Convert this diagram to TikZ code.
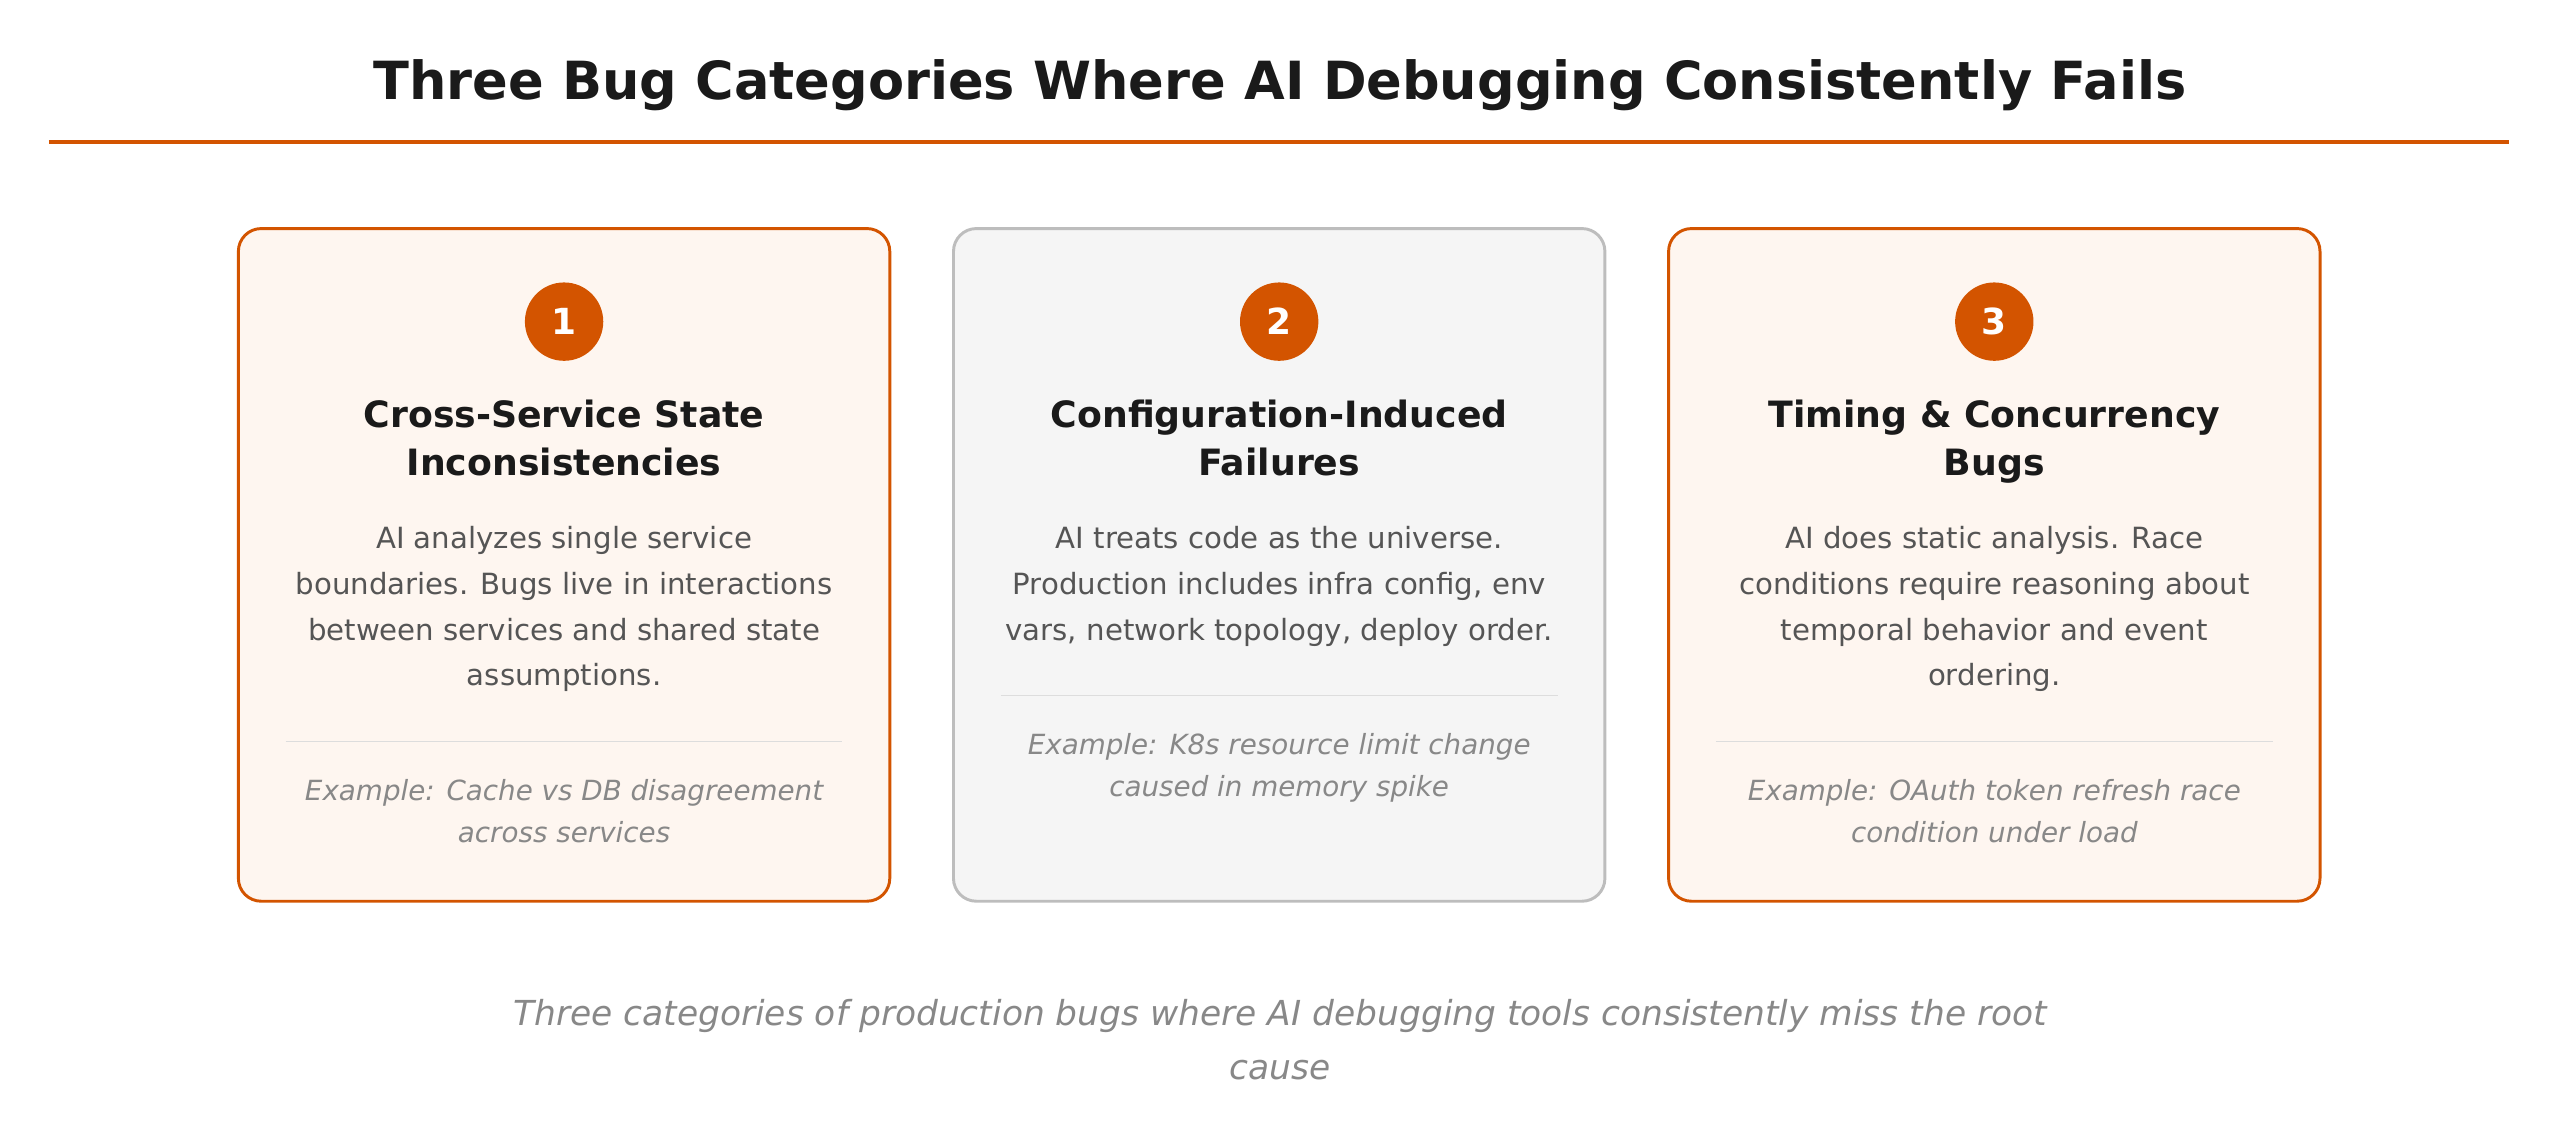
\documentclass[tikz,border=0pt]{standalone}
\usepackage{fontspec}
\setmainfont{DejaVu Sans}
\definecolor{accent}{HTML}{D35400}
\definecolor{warm}{HTML}{FEF6F0}
\definecolor{grayfill}{HTML}{F5F5F5}
\definecolor{grayline}{HTML}{BDBDBD}
\definecolor{dark}{HTML}{1A1A1A}
\definecolor{body}{HTML}{555555}
\definecolor{muted}{HTML}{888888}
\definecolor{rule}{HTML}{DDDDDD}
\tikzset{
  card/.style={draw=accent, line width=1.8pt, fill=warm, rounded corners=14pt},
  graycard/.style={draw=grayline, line width=1.8pt, fill=grayfill, rounded corners=14pt},
  badge/.style={circle, fill=accent, minimum size=48pt, inner sep=0pt, text=white, font=\fontsize{22}{26}\selectfont\bfseries},
  ctitle/.style={anchor=base, inner sep=0pt, text=dark, font=\fontsize{22.2}{26}\selectfont\bfseries},
  cbody/.style={anchor=base, inner sep=0pt, text=body, font=\fontsize{17.9}{22}\selectfont},
  cex/.style={anchor=base, inner sep=0pt, text=muted, font=\fontsize{17}{20}\selectfont\itshape},
  divider/.style={draw=rule, line width=0.8pt},
}
\begin{document}
\begin{tikzpicture}[x=1pt,y=-1pt]
\useasboundingbox (0,0) rectangle (1568,700);
\node[anchor=base, inner sep=0pt, text=dark, font=\fontsize{32.2}{36}\selectfont\bfseries] (title) at (784,61) {Three Bug Categories Where AI Debugging Consistently Fails};
\coordinate (hl) at (30,87); \coordinate (hr) at (1537,87);
\draw[accent, line width=2pt] (hl) -- (hr);

% card 1
\draw[card] (146,140) rectangle (545,552);
\node[badge] (b1) at (345.5,197) {1};
\node[ctitle] (t1a) at (345.5,262) {Cross-Service State};
\node[ctitle] (t1b) at (345.5,291) {Inconsistencies};
\node[cbody] (p1a) at (345.5,336) {AI analyzes single service};
\node[cbody] (p1b) at (345.5,364) {boundaries. Bugs live in interactions};
\node[cbody] (p1c) at (345.5,392) {between services and shared state};
\node[cbody] (p1d) at (345.5,420) {assumptions.};
\coordinate (d1l) at (175,454); \coordinate (d1r) at (516,454);
\draw[divider] (d1l) -- (d1r);
\node[cex] (e1a) at (345.5,490) {Example: Cache vs DB disagreement};
\node[cex] (e1b) at (345.5,516) {across services};

% card 2
\draw[graycard] (584,140) rectangle (983,552);
\node[badge] (b2) at (783.5,197) {2};
\node[ctitle] (t2a) at (783.5,262) {Configuration-Induced};
\node[ctitle] (t2b) at (783.5,291) {Failures};
\node[cbody] (p2a) at (783.5,336) {AI treats code as the universe.};
\node[cbody] (p2b) at (783.5,364) {Production includes infra config, env};
\node[cbody] (p2c) at (783.5,392) {vars, network topology, deploy order.};
\coordinate (d2l) at (613,426); \coordinate (d2r) at (954,426);
\draw[divider] (d2l) -- (d2r);
\node[cex] (e2a) at (783.5,462) {Example: K8s resource limit change};
\node[cex] (e2b) at (783.5,488) {caused in memory spike};

% card 3
\draw[card] (1022,140) rectangle (1421,552);
\node[badge] (b3) at (1221.5,197) {3};
\node[ctitle] (t3a) at (1221.5,262) {Timing \& Concurrency};
\node[ctitle] (t3b) at (1221.5,291) {Bugs};
\node[cbody] (p3a) at (1221.5,336) {AI does static analysis. Race};
\node[cbody] (p3b) at (1221.5,364) {conditions require reasoning about};
\node[cbody] (p3c) at (1221.5,392) {temporal behavior and event};
\node[cbody] (p3d) at (1221.5,420) {ordering.};
\coordinate (d3l) at (1051,454); \coordinate (d3r) at (1392,454);
\draw[divider] (d3l) -- (d3r);
\node[cex] (e3a) at (1221.5,490) {Example: OAuth token refresh race};
\node[cex] (e3b) at (1221.5,516) {condition under load};

% caption
\node[anchor=base, inner sep=0pt, text=muted, font=\fontsize{21.1}{24}\selectfont\itshape] (c1) at (784,628) {Three categories of production bugs where AI debugging tools consistently miss the root};
\node[anchor=base, inner sep=0pt, text=muted, font=\fontsize{21.1}{24}\selectfont\itshape] (c2) at (784,661) {cause};
\end{tikzpicture}
\end{document}
